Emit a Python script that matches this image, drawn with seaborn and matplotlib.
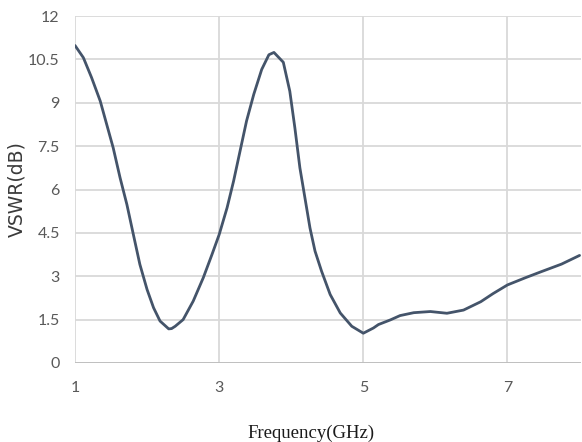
import matplotlib
matplotlib.use("Agg")
import matplotlib.pyplot as plt
import seaborn as sns
import pandas as pd

# Measured VSWR response of the antenna
freq_ghz = [1.00, 1.116, 1.23, 1.35, 1.44, 1.53, 1.625, 1.72, 1.81, 1.90,
            2.00, 2.09, 2.18, 2.30, 2.34, 2.39, 2.50, 2.64, 2.78, 2.90,
            3.00, 3.11, 3.20, 3.29, 3.38, 3.48, 3.59, 3.69, 3.76, 3.89,
            3.98, 4.05, 4.12, 4.19, 4.26, 4.33, 4.42, 4.54, 4.68, 4.84,
            5.00, 5.14, 5.21, 5.375, 5.51, 5.70, 5.93, 6.16, 6.39, 6.63,
            6.80, 7.00, 7.25, 7.46, 7.75, 8.00]
vswr = [10.98, 10.56, 9.87, 9.06, 8.25, 7.44, 6.41, 5.48, 4.44, 3.41,
        2.54, 1.91, 1.45, 1.18, 1.19, 1.27, 1.50, 2.14, 2.95, 3.75,
        4.44, 5.37, 6.29, 7.33, 8.37, 9.29, 10.15, 10.66, 10.74, 10.40,
        9.40, 8.14, 6.75, 5.71, 4.67, 3.87, 3.18, 2.37, 1.73, 1.27,
        1.03, 1.21, 1.33, 1.49, 1.64, 1.74, 1.78, 1.72, 1.83, 2.12,
        2.40, 2.70, 2.95, 3.15, 3.42, 3.72]

x_ticks = [1, 3, 5, 7]
y_ticks = [0, 1.5, 3, 4.5, 6, 7.5, 9, 10.5, 12]
y_tick_labels = ["0", "1.5", "3", "4.5", "6", "7.5", "9", "10.5", "12"]

df = pd.DataFrame({"Frequency": freq_ghz, "VSWR": vswr})

sns.set_theme(style="white")
plt.rcParams["font.family"] = ["DejaVu Sans"]

fig = plt.figure(figsize=(5.82, 4.42), dpi=100)
ax = fig.add_axes([75 / 582, 1 - 363 / 442, 506 / 582, (363 - 16) / 442])

grid_color = "#D9D9D9"
for yv in y_ticks[1:]:
    ax.axhline(yv, color=grid_color, lw=1.3, zorder=0)
for xv in x_ticks:
    ax.axvline(xv, color=grid_color, lw=1.3, zorder=0)
ax.axhline(0, color="#BFBFBF", lw=1.4, zorder=1)

sns.lineplot(data=df, x="Frequency", y="VSWR", ax=ax, color="#44546A",
             linewidth=2.0, zorder=3, solid_joinstyle="round",
             solid_capstyle="round")

ax.set_xlim(1, 8.02)
ax.set_ylim(0, 12)
ax.set_xticks(x_ticks)
ax.set_xticklabels([str(t) for t in x_ticks])
ax.set_yticks(y_ticks)
ax.set_yticklabels(y_tick_labels)

for s in ax.spines.values():
    s.set_visible(False)

ax.tick_params(axis="both", length=0, colors="#595959", labelsize=11.5)
ax.tick_params(axis="y", pad=11)
ax.tick_params(axis="x", pad=13)
for lab in ax.get_xticklabels() + ax.get_yticklabels():
    lab.set_fontfamily("Lato")

ax.set_xlabel("Frequency(GHz)", fontfamily="Liberation Serif", fontsize=13.5,
              color="#1A1A1A")
ax.xaxis.set_label_coords((311 - 75) / 506, -(425 - 363) / 347)
ax.set_ylabel("VSWR(dB)", fontsize=13.5, color="#3A3A3A")
ax.yaxis.set_label_coords(-(75 - 26) / 506, 0.5)

fig.savefig("out.png", dpi=100, facecolor="white")
